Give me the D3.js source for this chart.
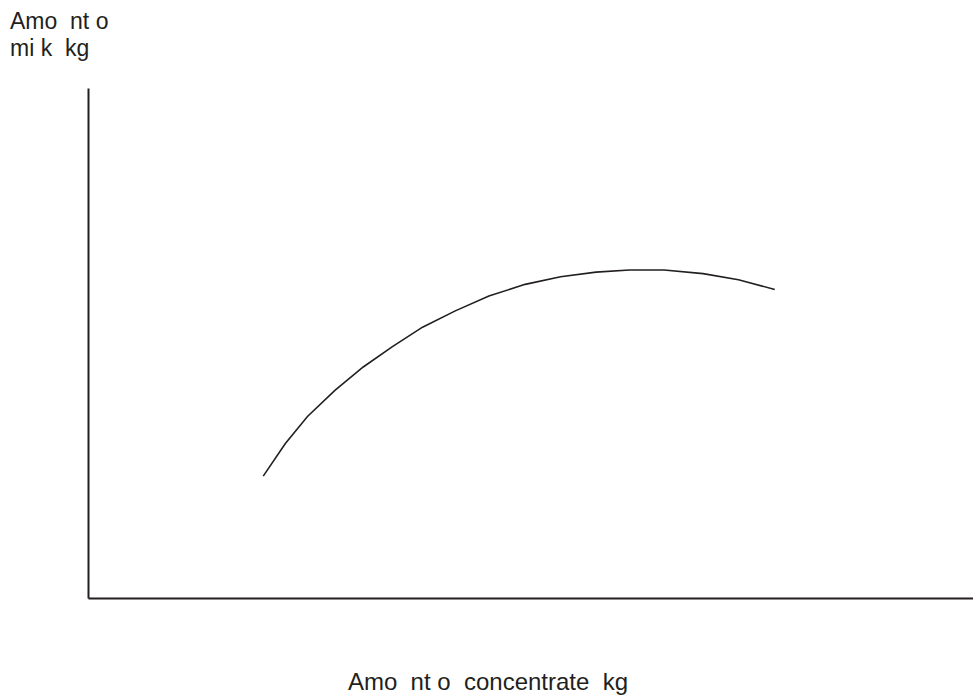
<!DOCTYPE html>
<html>
<head>
<meta charset="utf-8">
<script src="https://cdn.jsdelivr.net/npm/d3@7"></script>
<style>
  body { margin:0; background:#fff; }
  text { font-family: "Liberation Sans", Arial, sans-serif; fill:#231f20; white-space:pre; }
</style>
</head>
<body>
<div id="chart"></div>
<script>
// curve (arbitrary units, no ticks shown)
const concentrate = [1.98, 2.23, 2.48, 2.79, 3.11, 3.44, 3.78, 4.15, 4.53, 4.94, 5.34, 5.74, 6.12, 6.51, 6.95, 7.35, 7.76];
const milk        = [2.39, 3.03, 3.56, 4.07, 4.53, 4.93, 5.31, 5.63, 5.92, 6.15, 6.30, 6.39, 6.43, 6.43, 6.36, 6.24, 6.05];
const yLabelLines = ['Amo  nt o', 'mi k  kg'];
const xLabel      = 'Amo  nt o  concentrate  kg';

const WIDTH = 973, HEIGHT = 697;
const MARGIN = {top:88, right:0, bottom:99, left:88};

const svg = d3.select('#chart').append('svg')
  .attr('width', WIDTH).attr('height', HEIGHT);

const x = d3.scaleLinear().domain([0, 10])
  .range([MARGIN.left, WIDTH - MARGIN.right]);
const y = d3.scaleLinear().domain([0, 10])
  .range([HEIGHT - MARGIN.bottom, MARGIN.top]);

// axes: plain lines, no ticks
svg.append('g')
  .attr('transform', `translate(0,${HEIGHT - MARGIN.bottom})`)
  .call(d3.axisBottom(x).tickValues([]).tickSizeOuter(0))
  .call(g => g.select('.domain').attr('stroke', '#231f20').attr('stroke-width', 2));
svg.append('g')
  .attr('transform', `translate(${MARGIN.left},0)`)
  .call(d3.axisLeft(y).tickValues([]).tickSizeOuter(0))
  .call(g => g.select('.domain').attr('stroke', '#231f20').attr('stroke-width', 2));

const pts = concentrate.map((c, i) => [c, milk[i]]);
const line = d3.line().x(d => x(d[0])).y(d => y(d[1]));
svg.append('path')
  .datum(pts)
  .attr('fill', 'none')
  .attr('stroke', '#231f20')
  .attr('stroke-width', 1.6)
  .attr('d', line);

// labels
const yl = svg.append('text').attr('x', 10).attr('y', 29).style('font-size', '23px');
yLabelLines.forEach((t, i) => {
  yl.append('tspan').attr('x', 10).attr('dy', i ? 27 : 0).text(t);
});
svg.append('text')
  .attr('x', 488).attr('y', 690)
  .attr('text-anchor', 'middle')
  .style('font-size', '24px')
  .text(xLabel);
</script>
</body>
</html>
